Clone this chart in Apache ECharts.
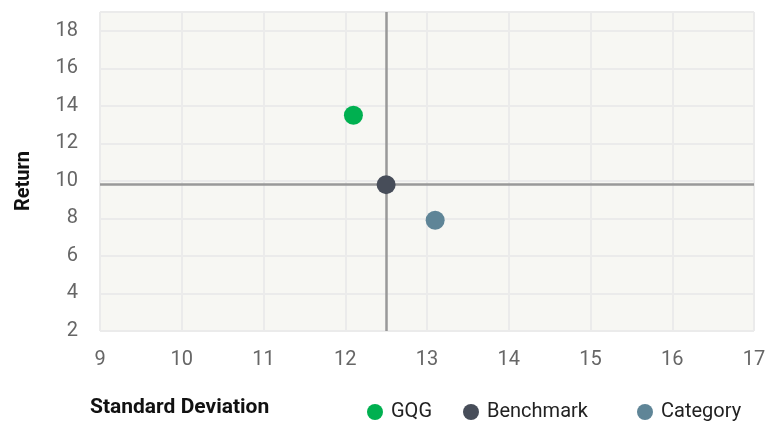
<!DOCTYPE html>
<html><head><meta charset="utf-8">
<script src="https://cdn.jsdelivr.net/npm/echarts@6/dist/echarts.min.js"></script>
<style>html,body{margin:0;padding:0;background:#fff}#c{width:765px;height:421px}</style>
</head><body><div id="c"></div>
<script>
const seriesNames = ['GQG', 'Benchmark', 'Category'];
const stdDev = [12.1, 12.5, 13.1];
const returns = [13.5, 9.8, 7.9];
const colors = ['#00b050', '#474d59', '#5f8597'];
const xTicks = [9, 10, 11, 12, 13, 14, 15, 16, 17];
const yTicks = [2, 4, 6, 8, 10, 12, 14, 16, 18];
const xAxisTitle = 'Standard Deviation';
const yAxisTitle = 'Return';

const FONT = '"Roboto", sans-serif';
const chart = echarts.init(document.getElementById('c'));
const bm = seriesNames.indexOf('Benchmark');
const legendLefts = [362, 458, 632];

chart.setOption({
  animation: false,
  grid: { left: 100, right: 11, top: 12, bottom: 90, show: true, backgroundColor: '#f7f7f3', borderWidth: 0, outerBoundsMode: 'none', containLabel: false },
  xAxis: {
    type: 'value', min: xTicks[0], max: xTicks[xTicks.length - 1], interval: 1,
    axisLine: { show: false }, axisTick: { show: false },
    splitLine: { show: true, lineStyle: { color: '#ebebeb', width: 2 } },
    axisLabel: { color: '#666', fontSize: 20, fontFamily: FONT, margin: 19 }
  },
  yAxis: {
    type: 'value', min: yTicks[0], max: 19, interval: 2,
    axisLine: { show: false }, axisTick: { show: false },
    splitLine: { show: true, lineStyle: { color: '#ebebeb', width: 2 } },
    axisLabel: { color: '#666', fontSize: 20, fontFamily: FONT, margin: 22,
      formatter: v => yTicks.includes(v) ? String(v) : '' }
  },
  legend: seriesNames.map((n, i) => ({
    data: [n], left: legendLefts[i], top: 397, icon: 'circle', itemWidth: 16, itemHeight: 16,
    itemGap: 0, textStyle: { color: '#222', fontSize: 20, fontFamily: FONT, padding: [0, 0, 0, 3] }
  })),
  graphic: [
    { type: 'text', left: 90, top: 397, style: { text: xAxisTitle, fill: '#111', font: 'bold 21px ' + FONT } },
    { type: 'text', x: 14, y: 181, rotation: Math.PI / 2, style: { text: yAxisTitle, fill: '#111', font: 'bold 20px ' + FONT, align: 'center', verticalAlign: 'top' } }
  ],
  series: seriesNames.map((n, i) => {
    const s = {
      name: n, type: 'scatter', symbolSize: 19, z: 5,
      itemStyle: { color: colors[i], opacity: 1 },
      data: [[stdDev[i], returns[i]]]
    };
    if (i === bm) {
      s.markLine = {
        silent: true, symbol: 'none', label: { show: false },
        emphasis: { disabled: true },
        lineStyle: { color: '#999', width: 2.5, type: 'solid', opacity: 1 },
        data: [{ xAxis: stdDev[bm] }, { yAxis: returns[bm] }]
      };
    }
    return s;
  })
});
</script></body></html>
